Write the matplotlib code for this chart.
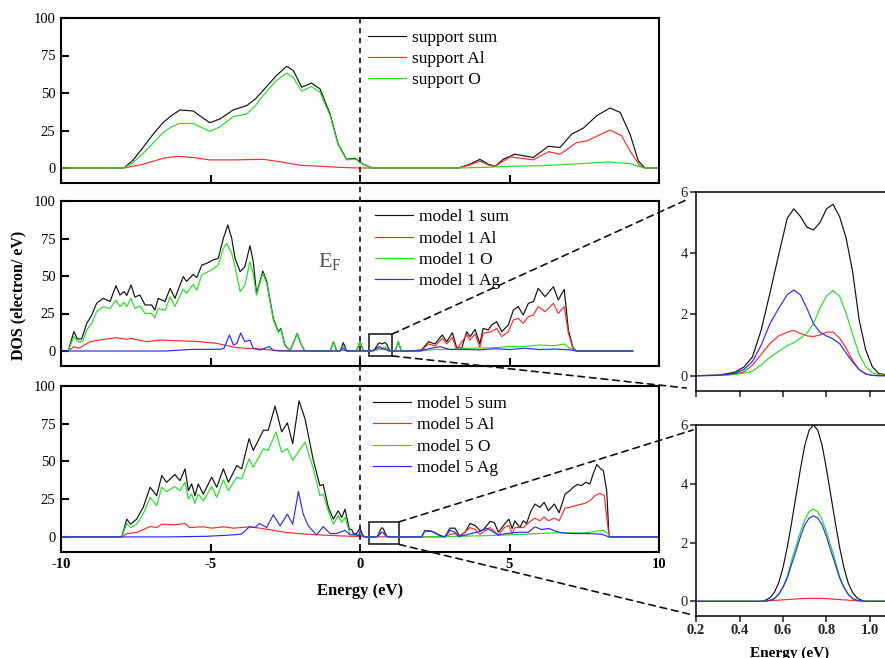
import matplotlib
matplotlib.use("Agg")
import matplotlib.pyplot as plt
import numpy as np
from matplotlib.patches import Rectangle, ConnectionPatch
from matplotlib.lines import Line2D
from matplotlib import transforms

plt.rcParams['font.family'] = ['Liberation Serif', 'DejaVu Serif']
plt.rcParams['mathtext.fontset'] = 'custom'
plt.rcParams['mathtext.rm'] = 'Liberation Serif'

# ---- support (top panel), (energy eV, DOS) pairs
sup_sum = [(-10, 0), (-7.9, 0), (-7.6, 5), (-7.26, 13.6), (-6.9, 23), (-6.58, 30.4), (-6.3, 35),
           (-6.02, 38.7), (-5.58, 38), (-5.3, 34), (-5.02, 30.2), (-4.68, 32.7), (-4.24, 38.7),
           (-3.79, 41.6), (-3.5, 46), (-3.24, 51.7), (-2.79, 61.7), (-2.45, 67.8), (-2.23, 65),
           (-1.95, 53.9), (-1.62, 56.6), (-1.34, 52.8), (-1.0, 36), (-0.73, 15.9), (-0.45, 5.8),
           (-0.17, 6.5), (0.11, 2.5), (0.42, 0), (3.29, 0), (3.68, 2.5), (4.01, 5.8), (4.29, 2.5),
           (4.52, 1.1), (4.79, 5.8), (5.18, 9.2), (5.8, 7), (6.30, 14.5), (6.69, 13.7), (7.08, 22.6),
           (7.47, 26.6), (7.92, 34.9), (8.36, 40), (8.70, 37.1), (9.03, 22.6), (9.31, 4.7),
           (9.53, 0), (10, 0)]
sup_al = [(-10, 0), (-7.9, 0), (-7.26, 2.5), (-6.58, 6.5), (-6.13, 7.8), (-5.58, 7), (-5.02, 5.4),
          (-4.24, 5.4), (-3.24, 5.8), (-2.56, 3.8), (-2.0, 1.8), (-1.45, 1.3), (-0.67, 0.4), (0, 0),
          (3.29, 0), (3.68, 2), (4.01, 4.7), (4.29, 2), (4.52, 1.1), (5.02, 7.4), (5.8, 5.4),
          (6.30, 10.9), (6.69, 9.2), (7.25, 17), (7.58, 18), (8.36, 25.3), (8.75, 21.5),
          (9.03, 11.4), (9.36, 1.6), (9.53, 0), (10, 0)]
sup_o = [(-10, 0), (-7.9, 0), (-7.6, 3.5), (-7.26, 9.6), (-6.9, 17), (-6.58, 23.7), (-6.3, 27.5),
         (-6.02, 29.7), (-5.58, 29.7), (-5.3, 27), (-5.02, 24.4), (-4.68, 27.5), (-4.24, 34.2),
         (-3.79, 36), (-3.5, 41.5), (-3.24, 48.3), (-2.79, 58.4), (-2.45, 63.3), (-2.23, 60.2),
         (-1.95, 51.2), (-1.62, 54.4), (-1.34, 50.5), (-1.0, 34.9), (-0.73, 15.4), (-0.45, 5.4),
         (-0.17, 6), (0.11, 2.5), (0.42, 0), (3.3, 0), (4.3, 0.5), (5.0, 1.2), (6.0, 1.5),
         (7.0, 2.5), (8.3, 4), (9.0, 3), (9.5, 0), (10, 0)]

# ---- zoom windows (shared energy grids)
ins1_e = [0.2, 0.30, 0.34, 0.38, 0.42, 0.46, 0.50, 0.54, 0.58, 0.62, 0.65, 0.68, 0.71, 0.74, 0.77,
          0.80, 0.83, 0.86, 0.89, 0.92, 0.95, 0.98, 1.01, 1.04, 1.1]
ins1_sum = [0, 0.02, 0.06, 0.12, 0.28, 0.62, 1.5, 2.7, 3.95, 5.15, 5.45, 5.2, 4.85, 4.76, 5.0,
            5.45, 5.6, 5.2, 4.5, 3.4, 1.83, 0.85, 0.3, 0.07, 0]
ins1_al = [0, 0.01, 0.03, 0.06, 0.12, 0.35, 0.7, 1.05, 1.3, 1.42, 1.48, 1.38, 1.3, 1.28, 1.33,
           1.42, 1.43, 1.23, 0.9, 0.5, 0.2, 0.06, 0.01, 0, 0]
ins1_o = [0, 0.01, 0.02, 0.04, 0.08, 0.15, 0.35, 0.6, 0.8, 0.98, 1.08, 1.22, 1.39, 1.7, 2.2,
          2.6, 2.78, 2.6, 2.05, 1.35, 0.7, 0.3, 0.1, 0.03, 0]
ins1_ag = [0, 0.01, 0.04, 0.08, 0.2, 0.47, 1.0, 1.7, 2.2, 2.65, 2.8, 2.64, 2.2, 1.7, 1.42,
           1.3, 1.2, 1.05, 0.74, 0.45, 0.2, 0.06, 0.01, 0, 0]

ins5_e = [0.2, 0.5, 0.52, 0.54, 0.56, 0.58, 0.60, 0.62, 0.64, 0.66, 0.68, 0.70, 0.72, 0.74,
          0.76, 0.78, 0.80, 0.82, 0.84, 0.86, 0.88, 0.90, 0.92, 0.94, 0.96, 0.98, 1.1]
ins5_sum = [0, 0, 0.04, 0.12, 0.3, 0.62, 1.15, 1.85, 2.7, 3.6, 4.5, 5.3, 5.82, 6.0,
            5.82, 5.3, 4.5, 3.6, 2.7, 1.85, 1.15, 0.62, 0.3, 0.12, 0.04, 0, 0]
ins5_al = [0, 0, 0.01, 0.02, 0.03, 0.04, 0.05, 0.06, 0.07, 0.08, 0.09, 0.1, 0.1, 0.1,
           0.1, 0.1, 0.09, 0.08, 0.07, 0.06, 0.05, 0.04, 0.03, 0.02, 0.01, 0, 0]
ins5_o = [0, 0, 0.01, 0.04, 0.1, 0.25, 0.5, 0.85, 1.41, 1.88, 2.36, 2.77, 3.05, 3.14,
          3.05, 2.77, 2.36, 1.88, 1.41, 0.85, 0.5, 0.25, 0.1, 0.04, 0.01, 0, 0]
ins5_ag = [0, 0, 0.01, 0.03, 0.09, 0.23, 0.47, 0.8, 1.27, 1.72, 2.2, 2.6, 2.83, 2.91,
           2.83, 2.6, 2.2, 1.72, 1.27, 0.8, 0.47, 0.23, 0.09, 0.03, 0.01, 0, 0]

# ---- model 1 (middle panel), zoom window excluded
m1_sum_l = [(-9.76, 0), (-9.57, 12.9), (-9.45, 8), (-9.31, 8), (-9.14, 18.4), (-8.97, 24), (-8.81, 31.8),
            (-8.59, 35.1), (-8.36, 33), (-8.16, 43.6), (-8.03, 37.3), (-7.89, 39.6), (-7.80, 37),
            (-7.66, 44), (-7.53, 36), (-7.36, 37.3), (-7.19, 30.7), (-6.97, 30.7), (-6.86, 27.3),
            (-6.75, 35.1), (-6.52, 33), (-6.35, 41.8), (-6.19, 35.1), (-5.91, 49.6), (-5.80, 46.4),
            (-5.58, 51.1), (-5.46, 48.9), (-5.29, 57.3), (-5.13, 58.4), (-4.91, 60.7), (-4.74, 61.8),
            (-4.57, 75.1), (-4.42, 84), (-4.29, 75.1), (-4.18, 61.8), (-4.01, 52.9), (-3.85, 56.2),
            (-3.68, 70.2), (-3.57, 59.6), (-3.46, 38.4), (-3.25, 53.3), (-3.12, 46.4), (-2.90, 21.8),
            (-2.73, 12.9), (-2.65, 15), (-2.51, 4), (-2.34, 0), (-2.22, 6), (-2.10, 11.8), (-1.98, 5),
            (-1.85, 0), (-1.0, 0), (-0.94, 3), (-0.89, 6.2), (-0.83, 3), (-0.78, 0), (-0.66, 0),
            (-0.61, 2.8), (-0.56, 5.6), (-0.50, 2.8), (-0.45, 0), (-0.12, 0), (-0.06, 3.1), (0, 6.2),
            (0.06, 3.1), (0.12, 0)]
m1_sum_r = [(1.18, 0), (1.23, 3), (1.28, 6.2), (1.33, 3), (1.38, 0), (1.62, 0), (2.06, 0.7), (2.29, 6.2),
            (2.51, 4.7), (2.75, 10.7), (2.90, 6.2), (3.09, 12.2), (3.23, 2.4), (3.40, 1.8), (3.57, 12.9),
            (3.68, 9.6), (3.85, 14.4), (4.01, 4.7), (4.12, 15.1), (4.29, 14), (4.40, 17.3), (4.57, 19.6),
            (4.74, 12.9), (4.96, 17.3), (5.13, 27.3), (5.29, 29.6), (5.46, 24), (5.63, 31.8),
            (5.80, 32.9), (5.96, 41.8), (6.19, 36.2), (6.47, 42.9), (6.63, 34), (6.83, 41.1),
            (6.97, 14), (7.13, 1.8), (7.25, 0), (9.12, 0)]
m1_al_l = [(-9.76, 0), (-9.57, 2.9), (-9.4, 1.8), (-9.03, 6.2), (-8.7, 7.3), (-8.16, 8.9), (-7.8, 7.8),
           (-7.66, 8.4), (-7.13, 6.2), (-6.69, 7.3), (-5.91, 6.7), (-5.35, 6.2), (-4.79, 5.1),
           (-4.46, 3.6), (-4.12, 2.2), (-3.79, 1.8), (-3.35, 1.3), (-2.79, 0.4), (-2.2, 0), (-0.7, 0),
           (-0.56, 0.6), (-0.45, 0), (0.12, 0)]
m1_al_r = [(1.62, 0), (2.06, 0.2), (2.29, 4.7), (2.51, 3.3), (2.75, 8.4), (2.90, 4.7), (3.09, 9.1),
           (3.23, 1.1), (3.57, 10.7), (3.68, 7.3), (3.85, 11.3), (4.01, 2.4), (4.12, 11.8), (4.40, 12.9),
           (4.57, 15.1), (4.74, 9.6), (4.96, 12.9), (5.13, 20.7), (5.29, 21.8), (5.46, 18.4),
           (5.63, 22.9), (5.80, 24), (5.96, 29.6), (6.19, 26.2), (6.47, 31.8), (6.63, 25.1),
           (6.83, 29.6), (6.97, 11.8), (7.13, 1.1), (7.25, 0), (9.12, 0)]
m1_o_l = [(-9.76, 0), (-9.57, 9.6), (-9.41, 6), (-9.27, 6.4), (-9.14, 14), (-8.97, 18.4), (-8.81, 26.2),
          (-8.59, 29.6), (-8.36, 28.2), (-8.16, 34), (-8.03, 29.6), (-7.89, 32.4), (-7.80, 29.6),
          (-7.66, 35.1), (-7.53, 28.4), (-7.36, 30), (-7.19, 25.1), (-6.97, 25.1), (-6.86, 22.2),
          (-6.75, 28.4), (-6.52, 27.1), (-6.35, 36.2), (-6.19, 29.6), (-5.91, 41.3), (-5.80, 38.4),
          (-5.58, 44.4), (-5.46, 40.7), (-5.29, 50.7), (-5.13, 52.4), (-4.91, 54.7), (-4.74, 57.3),
          (-4.57, 68.4), (-4.46, 71.8), (-4.29, 65.1), (-4.18, 56.2), (-4.01, 39.6), (-3.85, 44),
          (-3.68, 59.6), (-3.57, 50.7), (-3.46, 37.3), (-3.25, 51.8), (-3.12, 45.1), (-2.90, 20.9),
          (-2.73, 12.4), (-2.65, 14.4), (-2.51, 3.6), (-2.34, 0), (-2.22, 6), (-2.10, 11.6),
          (-1.98, 5), (-1.85, 0), (-1.0, 0), (-0.94, 3), (-0.89, 6.2), (-0.83, 3), (-0.78, 0),
          (-0.66, 0), (-0.56, 3.5), (-0.45, 0), (-0.12, 0), (-0.06, 3.1), (0, 6.2), (0.06, 3.1), (0.12, 0)]
m1_o_r = [(1.18, 0), (1.23, 3), (1.28, 6.2), (1.33, 3), (1.38, 0), (2.0, 0), (2.5, 1), (3.0, 1),
          (3.5, 1.8), (4.0, 2), (4.5, 2.2), (5.0, 3), (5.5, 3), (6.0, 4), (6.5, 3.5), (6.83, 4.7),
          (7.0, 2), (7.25, 0), (9.12, 0)]
m1_ag_l = [(-10, 0), (-6.5, 0), (-5.58, 1.1), (-4.68, 1.1), (-4.55, 1.8), (-4.46, 6), (-4.37, 10.7),
           (-4.23, 4), (-4.12, 5.1), (-3.99, 12), (-3.85, 6.2), (-3.68, 7.3), (-3.57, 1.8), (-3.35, 0.7),
           (-3.03, 2.9), (-2.9, 0.4), (-2.7, 0), (-0.7, 0), (-0.62, 1), (-0.56, 1.8), (-0.5, 1),
           (-0.42, 0), (0.12, 0)]
m1_ag_r = [(2.0, 0), (2.3, 1.5), (2.68, 2.9), (3.0, 1), (3.5, 1), (4.0, 0.8), (4.5, 1.5), (5.0, 1),
           (5.5, 1.8), (6.0, 1), (6.5, 1.3), (7.0, 0.8), (7.25, 0), (9.12, 0)]

# ---- model 5 (bottom panel), zoom window excluded
m5_sum_l = [(-10, 0), (-7.97, 0), (-7.80, 11.8), (-7.67, 8.4), (-7.47, 11.8), (-7.25, 19.6), (-7.02, 32.9),
            (-6.80, 27.3), (-6.63, 40.7), (-6.47, 36.2), (-6.19, 41.3), (-6.02, 37.3), (-5.85, 45.1),
            (-5.74, 30.7), (-5.63, 35.1), (-5.52, 27.3), (-5.41, 35.1), (-5.24, 28.4), (-4.96, 39.6),
            (-4.79, 32.9), (-4.57, 45.1), (-4.40, 36.2), (-4.12, 47.3), (-3.96, 45.1), (-3.71, 65.1),
            (-3.57, 57.3), (-3.23, 70.7), (-3.07, 70.7), (-2.84, 86.7), (-2.62, 69.6), (-2.43, 75.6),
            (-2.25, 61.8), (-2.04, 90.2), (-1.84, 78.4), (-1.56, 50.7), (-1.34, 34), (-1.23, 34.7),
            (-1.06, 19.6), (-0.89, 11.8), (-0.73, 17.3), (-0.61, 12.9), (-0.50, 18.4), (-0.36, 5.1),
            (-0.28, 4.9), (-0.17, 0.7), (0, 5.6), (0.1, 1), (0.17, 0)]
m5_sum_r = [(2.06, 0), (2.17, 4.2), (2.40, 3.8), (2.68, 0.9), (2.84, 0), (3.01, 5.8), (3.18, 5.8),
            (3.32, 0.7), (3.51, 2.9), (3.68, 8.9), (3.85, 7.6), (4.01, 4.2), (4.12, 4.7), (4.35, 10.2),
            (4.49, 9.6), (4.63, 3.1), (4.83, 8.4), (4.98, 11.8), (5.09, 5.6), (5.18, 10.7), (5.35, 6.2),
            (5.46, 10.7), (5.57, 8.9), (5.72, 17.3), (5.85, 21.8), (6.02, 19.6), (6.16, 22.9),
            (6.30, 17.3), (6.50, 21.8), (6.66, 16), (6.86, 28.4), (7.02, 30.7), (7.13, 32.9),
            (7.27, 34.7), (7.41, 34), (7.55, 36.2), (7.69, 35.1), (7.80, 41.8), (7.92, 48),
            (8.05, 45.1), (8.14, 44), (8.25, 30.7), (8.33, 0.4), (8.36, 0), (10, 0)]
m5_al_l = [(-10, 0), (-7.97, 0), (-7.8, 2.2), (-7.47, 2.9), (-7.02, 6.9), (-6.8, 6.2), (-6.63, 8.4),
           (-6.19, 8), (-5.85, 8.9), (-5.69, 6.2), (-5.24, 6.7), (-4.96, 5.8), (-4.57, 6.7), (-4.23, 5.8),
           (-3.68, 6.7), (-3.35, 5.8), (-2.9, 4.4), (-2.45, 2.9), (-1.78, 1.8), (-1.11, 1.1),
           (-0.33, 0.4), (0, 0.3), (0.17, 0)]
m5_al_r = [(2.84, 0), (3.01, 1.8), (3.18, 2.2), (3.32, 0), (3.68, 6.2), (3.85, 4.9), (4.01, 1.8),
           (4.35, 6.2), (4.63, 1.1), (4.83, 6.2), (4.98, 7.6), (5.09, 2.2), (5.18, 6.2), (5.46, 6.2),
           (5.72, 10.7), (5.85, 12.4), (6.02, 10.7), (6.16, 13.3), (6.30, 10.7), (6.50, 12.4),
           (6.66, 10.7), (6.86, 19.1), (7.02, 19.6), (7.20, 20.7), (7.52, 22.2), (7.69, 24),
           (7.86, 27.3), (8.03, 28.9), (8.17, 27.3), (8.25, 13.3), (8.33, 0.4), (8.36, 0), (10, 0)]
m5_o_l = [(-10, 0), (-7.97, 0), (-7.80, 8.9), (-7.67, 6.2), (-7.47, 8.4), (-7.25, 15.1), (-7.02, 26.2),
          (-6.80, 20.7), (-6.63, 32.9), (-6.47, 30), (-6.19, 33.3), (-6.02, 30.7), (-5.85, 36.2),
          (-5.74, 25.1), (-5.63, 28.4), (-5.52, 22.2), (-5.41, 28.4), (-5.24, 24), (-4.96, 33.3),
          (-4.79, 26.2), (-4.57, 37.8), (-4.40, 30.7), (-4.12, 39.6), (-3.96, 38.4), (-3.71, 51.8),
          (-3.57, 46.2), (-3.23, 58.4), (-3.07, 57.3), (-2.81, 69.6), (-2.62, 56.2), (-2.43, 58.4),
          (-2.25, 50.7), (-2.04, 57), (-1.84, 62.9), (-1.56, 45.1), (-1.34, 27.3), (-1.23, 28.4),
          (-1.06, 17.3), (-0.89, 8.4), (-0.73, 14), (-0.61, 9.6), (-0.50, 12.9), (-0.33, 1.8),
          (-0.17, 0.7), (0, 1.5), (0.17, 0)]
m5_o_r = [(2.0, 0), (3.5, 0.5), (4.5, 1), (5.5, 1.8), (6.5, 2.7), (7.5, 2.7), (8.14, 4.4), (8.3, 2),
          (8.36, 0), (10, 0)]
m5_ag_l = [(-10, 0), (-6.5, 0), (-5.13, 0.4), (-4.46, 1.1), (-3.96, 1.8), (-3.70, 6.7), (-3.51, 6.2),
           (-3.37, 8.9), (-3.12, 6.2), (-2.90, 14.7), (-2.67, 7.3), (-2.43, 15.1), (-2.25, 8.4),
           (-2.06, 30.2), (-1.90, 15.1), (-1.73, 7.3), (-1.45, 1.3), (-1.23, 6.9), (-1.00, 2.2),
           (-0.78, 2.2), (-0.50, 4.4), (-0.33, 1.3), (-0.17, 2.2), (-0.05, 0.5), (0, 4), (0.1, 0.5),
           (0.17, 0)]
m5_ag_r = [(2.06, 0), (2.17, 4), (2.40, 3.6), (2.68, 0.7), (2.84, 0), (3.01, 4.4), (3.18, 3.1),
           (3.29, 0.4), (3.51, 1.1), (3.74, 2.4), (4.01, 3.6), (4.24, 5.8), (4.40, 4), (4.63, 1.3),
           (4.96, 2.4), (5.3, 3.1), (5.63, 3.1), (5.85, 6.7), (6.07, 4.9), (6.3, 5.6), (6.52, 4),
           (6.74, 2.7), (7.08, 2.2), (7.64, 2.2), (8.09, 1.8), (8.32, 0), (10, 0)]

colors = {'sum': '#111111', 'Al': '#ff2a2a', 'O': '#22e022', 'Ag': '#2a2aff'}
LW = 0.85


def join(left, mid_e, mid_y, right):
    e = [p[0] for p in left] + list(mid_e) + [p[0] for p in right]
    y = [p[1] for p in left] + list(mid_y) + [p[1] for p in right]
    return np.array(e), np.array(y)


def xy(pairs):
    a = np.array(pairs, dtype=float)
    return a[:, 0], a[:, 1]


W, H = 885, 658
fig = plt.figure(figsize=(W / 100, H / 100), dpi=100)


def px_axes(l, t, r, b):
    return fig.add_axes([l / W, 1 - b / H, (r - l) / W, (b - t) / H])


def style_main(ax, bottom_labels=False):
    ax.set_xlim(-10, 10)
    ax.set_ylim(-10, 100)
    ax.set_yticks([0, 25, 50, 75, 100])
    ax.set_xticks([-10, -5, 0, 5, 10])
    ax.tick_params(direction='in', length=6, width=1.5, labelsize=10.5, pad=4)
    for s in ax.spines.values():
        s.set_linewidth(1.5)
    if bottom_labels:
        ax.set_xticklabels(['-10', '-5', '0', '5', '10'], fontweight='bold')
    else:
        ax.tick_params(labelbottom=False)


def style_inset(ax, bottom_labels=False):
    ax.set_xlim(0.2, 1.1)
    ax.set_ylim(-0.5, 6)
    ax.set_yticks([0, 2, 4, 6])
    ax.set_xticks([0.2, 0.4, 0.6, 0.8, 1.0])
    ax.tick_params(direction='out', length=4, width=1.1, labelsize=10.5, colors='#222222', pad=2)
    for s in ax.spines.values():
        s.set_linewidth(1.1)
    if bottom_labels:
        ax.set_xticklabels(['0.2', '0.4', '0.6', '0.8', '1.0'], fontweight='bold')
    else:
        ax.tick_params(labelbottom=False)


def legend(ax, labels, x, y):
    handles = [Line2D([], [], color=colors[k], lw=LW) for k in ['sum', 'Al', 'O', 'Ag'][:len(labels)]]
    ax.legend(handles, labels, loc='upper left', bbox_to_anchor=(x, y), frameon=False, fontsize=12.5,
              handlelength=2.2, handletextpad=0.35, labelspacing=0.3, borderpad=0, borderaxespad=0)


ax1 = px_axes(61, 18, 659, 183)
ax2 = px_axes(61, 201, 659, 366)
ax3 = px_axes(61, 386, 659, 552)
ins1 = px_axes(696, 192, 696 + 0.9 * 217.5, 391)
ins5 = px_axes(696, 425, 696 + 0.9 * 217.5, 616)

# top panel
for key, pairs in [('sum', sup_sum), ('Al', sup_al), ('O', sup_o)]:
    ax1.plot(*xy(pairs), color=colors[key], lw=LW)
style_main(ax1)
legend(ax1, ['support sum', 'support Al', 'support O'], 0.513, 0.93)

# middle panel
for key, l, me, my, r in [('sum', m1_sum_l, ins1_e, ins1_sum, m1_sum_r),
                          ('Al', m1_al_l, ins1_e, ins1_al, m1_al_r),
                          ('O', m1_o_l, ins1_e, ins1_o, m1_o_r),
                          ('Ag', m1_ag_l, ins1_e, ins1_ag, m1_ag_r)]:
    ax2.plot(*join(l, me, my, r), color=colors[key], lw=LW)
style_main(ax2)
legend(ax2, ['model 1 sum', 'model 1 Al', 'model 1 O', 'model 1 Ag'], 0.525, 0.95)
ax2.text(-1.42, 59, r'E$_\mathrm{F}$', fontsize=16, color='#555555', ha='left', va='center')
ax2.add_patch(Rectangle((0.3, -3.3), 0.78, 14.6, fill=False, lw=1.2, color='#222222', clip_on=False))

# bottom panel
for key, l, me, my, r in [('sum', m5_sum_l, ins5_e, ins5_sum, m5_sum_r),
                          ('Al', m5_al_l, ins5_e, ins5_al, m5_al_r),
                          ('O', m5_o_l, ins5_e, ins5_o, m5_o_r),
                          ('Ag', m5_ag_l, ins5_e, ins5_ag, m5_ag_r)]:
    ax3.plot(*join(l, me, my, r), color=colors[key], lw=LW)
style_main(ax3, bottom_labels=True)
legend(ax3, ['model 5 sum', 'model 5 Al', 'model 5 O', 'model 5 Ag'], 0.522, 0.94)
ax3.add_patch(Rectangle((0.31, -5), 1.0, 15, fill=False, lw=1.2, color='#222222', clip_on=False))

# zoom insets
for key, vals in [('sum', ins1_sum), ('Al', ins1_al), ('O', ins1_o), ('Ag', ins1_ag)]:
    ins1.plot(ins1_e, vals, color=colors[key], lw=LW)
style_inset(ins1)
for key, vals in [('sum', ins5_sum), ('Al', ins5_al), ('O', ins5_o), ('Ag', ins5_ag)]:
    ins5.plot(ins5_e, vals, color=colors[key], lw=LW)
style_inset(ins5, bottom_labels=True)

# Fermi level dashed line across the three panels
trans = transforms.blended_transform_factory(ax1.transData, fig.transFigure)
fig.add_artist(Line2D([0, 0], [1 - 18 / H, 1 - 552 / H], transform=trans, color='#222222',
                      lw=1.3, linestyle=(0, (3, 2.5))))

# zoom connectors
dash = (0, (4, 3))
for axA, xyA, axB, xyB in [(ax2, (1.08, 11.3), ins1, (-0.05, 0.96)),
                           (ax2, (1.08, -3.3), ins1, (-0.05, 0.015)),
                           (ax3, (1.31, 10), ins5, (-0.015, 0.974)),
                           (ax3, (1.31, -5), ins5, (-0.015, 0.005))]:
    con = ConnectionPatch(xyA=xyA, coordsA=axA.transData, xyB=xyB, coordsB=axB.transAxes,
                          color='#111111', lw=1.2, linestyle=dash)
    fig.add_artist(con)

fig.text(18 / W, 1 - 295 / H, 'DOS (electron/ eV)', rotation=90, fontsize=11.5, fontweight='bold',
         ha='center', va='center')
fig.text(360 / W, 1 - 591 / H, 'Energy (eV)', fontsize=12, fontweight='bold', ha='center', va='center')
fig.text(790 / W, 1 - 653 / H, 'Energy (eV)', fontsize=11, fontweight='bold', ha='center', va='center')

fig.savefig('out.png', dpi=100)
